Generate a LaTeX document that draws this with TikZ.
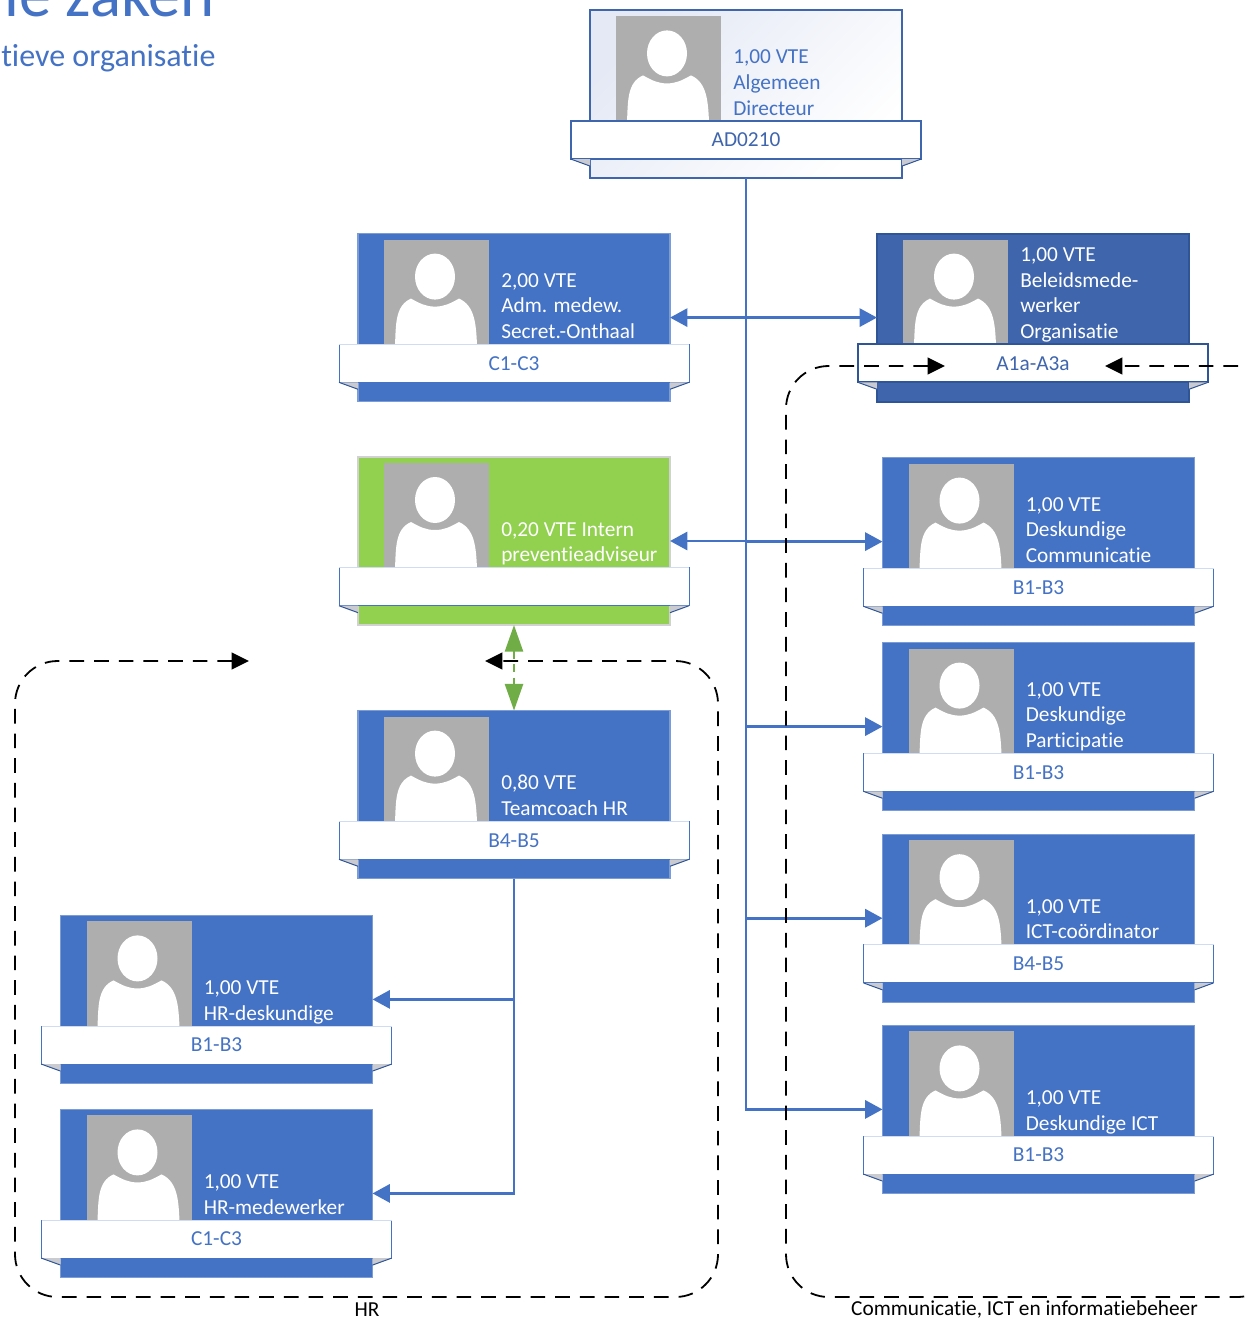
\documentclass[tikz,border=0pt]{standalone}
\usepackage{fontspec}
\setmainfont[Ligatures=NoCommon]{Carlito}
\usetikzlibrary{arrows.meta,shadings}
\definecolor{orgblue}{HTML}{4472C4}
\definecolor{orgdark}{HTML}{3F65AD}
\definecolor{orgedge}{HTML}{2F5597}
\definecolor{orggreen}{HTML}{92D050}
\definecolor{arrowgreen}{HTML}{70AD47}
\definecolor{photogrey}{HTML}{AEAEAE}
\definecolor{foldgrey}{HTML}{C9CBD0}
\definecolor{toptint}{HTML}{E4E9F5}
\tikzset{
  cardbox/.style={draw,anchor=north west,minimum width=234pt,minimum height=126pt,inner sep=0,outer sep=0},
  cardblue/.style={fill=orgblue,draw=orgblue!70!white,line width=.9pt},
  cardgreen/.style={fill=orggreen,draw=black!18,line width=.9pt},
  carddark/.style={fill=orgdark,draw=orgedge,line width=1.6pt},
  cardtop/.style={left color=toptint,middle color=white,right color=white,shading angle=45,draw=orgdark,line width=1.6pt},
  bandbox/.style={draw=orgblue,fill=white,minimum width=262.5pt,minimum height=28.5pt,inner sep=0,outer sep=0,
    text=orgblue,font=\fontsize{16}{19.2}\selectfont},
  cardblueband/.style={line width=.75pt},
  cardgreenband/.style={line width=.75pt},
  carddarkband/.style={draw=orgedge,text=orgdark,line width=1.6pt},
  cardtopband/.style={draw=orgdark,text=orgdark,line width=1.6pt},
  cardblueedge/.style={draw=orgblue!25},
  cardgreenedge/.style={draw=orgblue!25},
  carddarkedge/.style={draw=none},
  cardtopedge/.style={draw=none},
  cardbluetext/.style={text=white},
  cardgreentext/.style={text=white},
  carddarktext/.style={text=white},
  cardtoptext/.style={text=orgblue},
  photobox/.style={fill=photogrey,anchor=north west,minimum width=78.75pt,minimum height=78.75pt,inner sep=0,outer sep=0},
  infotext/.style={anchor=south west,align=left,inner sep=0,font=\fontsize{16}{19.2}\selectfont},
  foldedge/.style={draw=orgedge,line width=.75pt},
  orgline/.style={draw=orgblue,line width=2.2pt},
  orgarrow/.style={orgline,-{Triangle[length=13pt,width=13.5pt]}},
  orgboth/.style={orgline,{Triangle[length=13pt,width=13.5pt]}-{Triangle[length=13pt,width=13.5pt]}},
  dashline/.style={draw=black,line width=1.35pt,dash pattern=on 11pt off 7.5pt,rounded corners=32pt,
    {Triangle[length=13pt,width=12.5pt]}-{Triangle[length=13pt,width=12.5pt]}},
  footlabel/.style={inner sep=0,font=\fontsize{16}{18}\selectfont}
}
\newcommand{\orgcard}[6]{
  \node[cardbox,#4] (#1) at (#2,#3) {};
  \node[photobox] (#1p) at ([shift={(26,6)}]#1.north west) {};
  \begin{scope}[shift={(#1p.north west)}]
    \fill[white] (51,37) ellipse (20 and 23);
    \fill[white] (11,105) .. controls (12,85) and (11,66) .. (27,59) .. controls (36,64) and (42,67) .. (51,67)
      .. controls (60,67) and (66,64) .. (75,59) .. controls (91,66) and (92,85) .. (93,105) -- cycle;
  \end{scope}
  \node[infotext,#4text] (#1t) at ([shift={(12,1.7)}]#1p.south east) {#5\strut};
  \node[bandbox,#4band] (#1b) at ([yshift=-34.3pt]#1.center) {#6};
  \draw[#4edge,line width=.75pt] (#1b.north west) -- (#1b.north east);
  \fill[foldgrey] (#1b.south west) -- (#1b.south west -| #1.west) -- ++(0,7) -- cycle;
  \fill[foldgrey] (#1b.south east) -- (#1b.south east -| #1.east) -- ++(0,7) -- cycle;
  \draw[foldedge] (#1b.south west) -- ([yshift=-5.2pt]#1b.south west -| #1.west);
  \draw[foldedge] (#1b.south east) -- ([yshift=-5.2pt]#1b.south east -| #1.east);
}
\begin{document}
\begin{tikzpicture}[x=0.75pt,y=-0.75pt]
  \useasboundingbox (0,0) rectangle (1245,1319);
  \clip (0,0) rectangle (1245,1319);

  \node[anchor=base west,inner sep=0,text=orgblue,font=\fontsize{48.5}{58}\selectfont] (title) at (4,17) {ie zaken};
  \node[anchor=base west,inner sep=0,text=orgblue,font=\fontsize{24}{29}\selectfont] (subtitle) at (1,67) {tieve organisatie};

  \orgcard{ad}{590}{10.4}{cardtop}{1,00 VTE\\Algemeen\\Directeur}{AD0210}
  \orgcard{secr}{358}{233.6}{cardblue}{2,00 VTE\\Adm. medew.\\Secret.-Onthaal}{C1-C3}
  \orgcard{beleid}{877}{233.6}{carddark}{1,00 VTE\\Beleidsmede-\\werker\\Organisatie}{A1a-A3a}
  \orgcard{intern}{358}{457}{cardgreen}{0,20 VTE Intern\\preventieadviseur}{}
  \orgcard{comm}{882.5}{457.6}{cardblue}{1,00 VTE\\Deskundige\\Communicatie}{B1-B3}
  \orgcard{part}{882.5}{642.6}{cardblue}{1,00 VTE\\Deskundige\\Participatie}{B1-B3}
  \orgcard{coach}{358}{710.6}{cardblue}{0,80 VTE\\Teamcoach HR}{B4-B5}
  \orgcard{ict}{882.5}{834.2}{cardblue}{1,00 VTE\\ICT-coördinator}{B4-B5}
  \orgcard{deskict}{882.5}{1025.4}{cardblue}{1,00 VTE\\Deskundige ICT}{B1-B3}
  \orgcard{hrdesk}{60.5}{915.4}{cardblue}{1,00 VTE\\HR-deskundige}{B1-B3}
  \orgcard{hrmed}{60.5}{1109.4}{cardblue}{1,00 VTE\\HR-medewerker}{C1-C3}

  \draw[orgarrow] (ad.south) |- (deskict.west);
  \draw[orgboth] (secr.east) -- (beleid.west);
  \draw[orgarrow] (ad.south |- intern.east) -- (intern.east);
  \foreach \t in {comm,part,ict} {
    \draw[orgarrow] (ad.south |- \t.west) -- (\t.west);
  }
  \draw[orgline] (coach.south) -- (coach.south |- hrdesk.east);
  \draw[orgarrow] (coach.south |- hrdesk.east) -- (hrdesk.east);
  \draw[orgarrow] (coach.south |- hrdesk.east) |- (hrmed.east);

  \draw[draw=arrowgreen,line width=1.9pt,dash pattern=on 6pt off 4pt,{Triangle[length=20pt,width=13.5pt]}-{Triangle[length=20pt,width=13.5pt]}] (intern.south) -- (coach.north);

  \coordinate (hrstart) at (249,661);
  \coordinate (hrend) at (485,661);
  \coordinate (commstart) at (945,366);
  \coordinate (commend) at (1105,366);
  \draw[dashline] (hrstart) -- (15,661) -- (15,1297) -- (718,1297) -- (718,661) -- (hrend);
  \draw[dashline] (commstart) -- (786,366) -- (786,1297) -- (1280,1297) -- (1280,366) -- (commend);

  \node[footlabel] (hrlabel) at (367,1309.5) {HR};
  \node[footlabel] (commlabel) at (1024.5,1309.5) {Communicatie, ICT en informatiebeheer};
\end{tikzpicture}
\end{document}
